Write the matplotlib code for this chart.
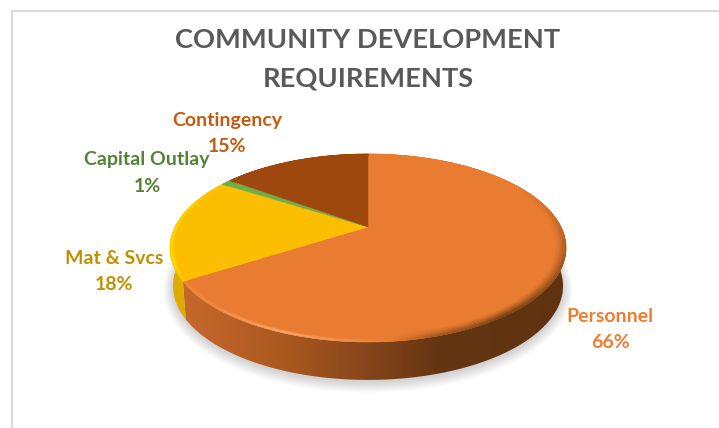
import numpy as np
import matplotlib
matplotlib.use('Agg')
import matplotlib.pyplot as plt
from matplotlib.collections import PolyCollection
from matplotlib.colors import to_rgb
from matplotlib.patches import Polygon

title_lines = ['COMMUNITY DEVELOPMENT', 'REQUIREMENTS']
categories = ['Personnel', 'Mat & Svcs', 'Capital Outlay', 'Contingency']
values = [66, 18, 1, 15]
slice_colors = ['#E97C30', '#FBBE00', '#70AD47', '#9E480E']
wall_left = ['#C4672B', '#DFAB00', '#5F8F3C', '#7A380B']
rim_light = ['#FFB27A', '#FFDC00', '#8CC860', '#B85A18']
label_colors = ['#ED7D31', '#BF9000', '#548235', '#C55A11']
label_pos = [(610, 316), (114, 257), (147, 159), (227, 119)]

# pie geometry in pixels
cx, cy = 368, 227
scale_x, scale_y, persp = 193, 89.3, 0.223
depth = 38
taper = 0.985


def project(theta, r=1.0):
    # theta runs clockwise from 12 o'clock, in degrees
    t = np.radians(theta)
    X, Y = r * np.sin(t), r * np.cos(t)
    d = 1 + persp * Y
    return cx + scale_x * X / d, cy - scale_y * Y / d


def mix(a, b, f):
    a, b = np.array(to_rgb(a)), np.array(to_rgb(b))
    return tuple(a + (b - a) * f)


# side of the big slice darkens from left to right
grad_x = [185, 290, 370, 440, 566]
grad_c = [to_rgb(c) for c in ['#C6682C', '#A8581F', '#84441A', '#643512', '#5F3311']]


def wall_color(i, x):
    if i == 0:
        return tuple(float(np.interp(x, grad_x, [c[k] for c in grad_c])) for k in range(3))
    return to_rgb(wall_left[i])


def rim_shade(theta):
    # bevel along the rim: negative goes dark, positive goes light
    return np.interp(theta, [0, 60, 95, 145, 165, 178, 200, 222, 238, 250, 285, 305, 360],
                     [0, 0, -0.35, -0.85, -0.5, 0.15, 0.9, 0.3, 0.2, 1.0, 0.7, 0, 0])


fig = plt.figure(figsize=(7.19, 4.28), dpi=100)
ax = fig.add_axes([0, 0, 1, 1])
ax.axis('off')

# chart area border, left and top only
ax.plot([12, 12, 719], [428, 11, 11], color='#D9D9D9', lw=1.5, solid_joinstyle='miter')

# soft shadow under the pie
circle = np.linspace(0, 360, 361)
sx, sy = project(circle)
for grow in np.linspace(14, 0, 15):
    ax.fill(cx + (sx - cx) * taper + grow * np.sin(np.radians(circle)) * 0.7,
            sy + depth + 2 - grow * np.cos(np.radians(circle)) * 0.8,
            color='#000000', alpha=0.012, lw=0)

edges = np.cumsum([0] + values) / sum(values) * 360

# side wall: one polygon per slice, the big one filled with a left-to-right gradient
xgrid = np.arange(160, 580)
strip = np.array([[wall_color(0, x) for x in xgrid]])
for i in range(len(values)):
    th = np.linspace(edges[i], edges[i + 1], 300)
    th = th[np.cos(np.radians(th)) < -0.05]
    if len(th) < 2:
        continue
    x, y = project(th)
    outline = np.column_stack([np.r_[x, cx + (x[::-1] - cx) * taper], np.r_[y, y[::-1] + depth]])
    if i == 0:
        clip = Polygon(outline, transform=ax.transData, fc='none', ec='none')
        ax.add_patch(clip)
        im = ax.imshow(strip, extent=(160, 580, 400, 200), aspect='auto', interpolation='nearest', zorder=1)
        im.set_clip_path(clip)
    else:
        ax.add_patch(Polygon(outline, fc=wall_color(i, 0), ec='none'))

# top face
for i in range(len(values)):
    th = np.linspace(edges[i], edges[i + 1], 200)
    x, y = project(th)
    ax.fill(np.r_[cx, x], np.r_[cy, y], color=slice_colors[i], lw=0.3)

# bevel rings just inside the rim
radii = np.linspace(1.0, 0.955, 8)
polys, cols = [], []
for i in range(len(values)):
    steps = np.arange(edges[i], edges[i + 1] + 1, 1.0)
    for a, b in zip(steps[:-1], steps[1:]):
        for k in range(len(radii) - 1):
            xa, ya = project(a, radii[k])
            xb, yb = project(b, radii[k])
            xc, yc = project(b, radii[k + 1])
            xd, yd = project(a, radii[k + 1])
            s = rim_shade((a + b) / 2)
            if s >= 0:
                # thin bright line close to the outer edge
                f = s * max(0, 1 - abs(k - 1) / 2.5)
                c = mix(slice_colors[i], rim_light[i], f)
            else:
                # the dark side fades outward into the wall colour
                f = -s * (1 - k / 7)
                c = mix(slice_colors[i], wall_color(i, (xa + xb) / 2), f)
            polys.append([(xa, ya), (xb, yb), (xc, yc), (xd, yd)])
            cols.append(c)
ax.add_collection(PolyCollection(polys, facecolors=cols, edgecolors=cols, linewidths=0.5))

# title and data labels
for line, y in zip(title_lines, [39.5, 78]):
    ax.text(368, y, line, ha='center', va='center', family='Lato', weight='bold',
            fontsize=19.6, color='#595959')
for name, val, pos, col in zip(categories, values, label_pos, label_colors):
    ax.text(pos[0], pos[1] + 1, name, ha='center', va='center', family='Lato', weight='bold',
            fontsize=14, color=col)
    ax.text(pos[0], pos[1] + 27, f'{val}%', ha='center', va='center', family='Lato', weight='bold',
            fontsize=14, color=col)

ax.set_xlim(0, 719)
ax.set_ylim(428, 0)
fig.savefig('out.png', dpi=100)
